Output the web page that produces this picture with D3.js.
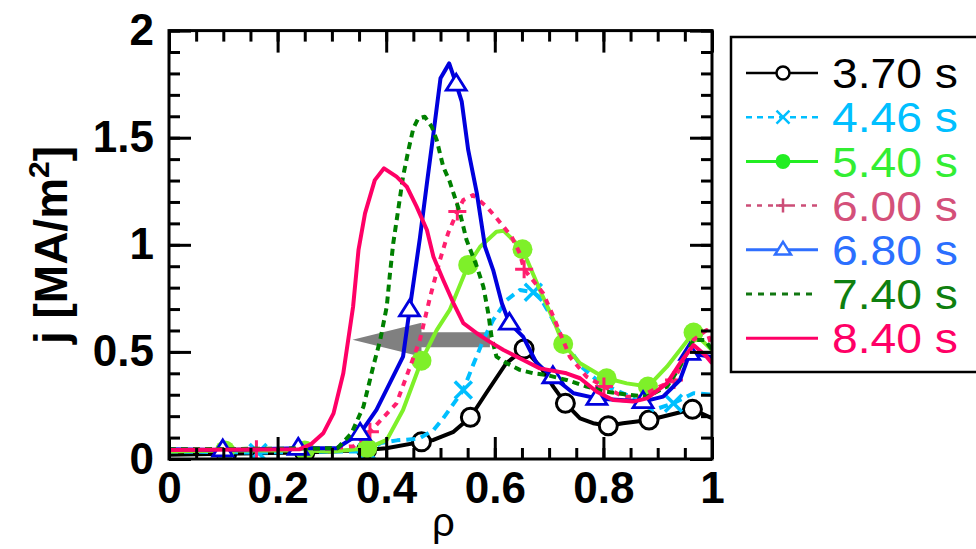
<!DOCTYPE html>
<html>
<head>
<meta charset="utf-8">
<script src="https://cdn.jsdelivr.net/npm/d3@7"></script>
<style>
  body { margin: 0; background: #fff; }
  svg { display: block; font-family: "Liberation Sans", Arial, sans-serif; }
</style>
</head>
<body>
<svg id="chart" width="976" height="549"></svg>
<script>
// ---- data ----
const xTicks = [0, 0.2, 0.4, 0.6, 0.8, 1];
const xTickLabels = ["0", "0.2", "0.4", "0.6", "0.8", "1"];
const yTicks = [0, 0.5, 1, 1.5, 2];
const yTickLabels = ["0", "0.5", "1", "1.5", "2"];
const labels = ["3.70 s", "4.46 s", "5.40 s", "6.00 s", "6.80 s", "7.40 s", "8.40 s"];

const rho370 = [0, 0.106, 0.25, 0.364, 0.4, 0.465, 0.487, 0.524, 0.555, 0.584, 0.621, 0.654, 0.684, 0.708, 0.73, 0.757, 0.781, 0.809, 0.836, 0.884, 0.964, 1.0];
const j370   = [0.02, 0.025, 0.03, 0.042, 0.05, 0.08, 0.089, 0.127, 0.195, 0.307, 0.447, 0.514, 0.431, 0.337, 0.26, 0.19, 0.167, 0.155, 0.167, 0.182, 0.232, 0.19];
const mk370  = [1, 2, 3, 5, 8, 11, 14, 17, 19, 20];

const rho446 = [0, 0.164, 0.3, 0.365, 0.39, 0.42, 0.46, 0.487, 0.505, 0.542, 0.56, 0.579, 0.597, 0.622, 0.646, 0.671, 0.683, 0.705, 0.726, 0.76, 0.794, 0.849, 0.892, 0.929, 0.966, 1.0];
const j446   = [0.035, 0.03, 0.035, 0.035, 0.075, 0.087, 0.095, 0.135, 0.19, 0.322, 0.439, 0.556, 0.649, 0.742, 0.789, 0.778, 0.756, 0.66, 0.556, 0.43, 0.355, 0.291, 0.229, 0.26, 0.307, 0.3];
const mk446  = [1, 3, 9, 15, 23];

const rho540 = [0, 0.103, 0.25, 0.3, 0.365, 0.401, 0.431, 0.465, 0.493, 0.517, 0.551, 0.573, 0.603, 0.616, 0.651, 0.683, 0.708, 0.726, 0.757, 0.788, 0.806, 0.843, 0.882, 0.917, 0.966, 1.0];
const j540   = [0.035, 0.04, 0.04, 0.035, 0.05, 0.089, 0.229, 0.459, 0.602, 0.696, 0.906, 0.991, 1.061, 1.066, 0.979, 0.789, 0.649, 0.537, 0.447, 0.4, 0.377, 0.353, 0.338, 0.431, 0.59, 0.509];
const mk540  = [1, 2, 4, 7, 10, 14, 17, 20, 22, 24];

const rho600 = [0, 0.161, 0.3, 0.34, 0.37, 0.419, 0.444, 0.462, 0.481, 0.499, 0.514, 0.531, 0.542, 0.56, 0.585, 0.606, 0.631, 0.646, 0.654, 0.689, 0.708, 0.738, 0.769, 0.801, 0.837, 0.867, 0.904, 0.93, 0.966, 0.99, 1.0];
const j600   = [0.045, 0.045, 0.05, 0.06, 0.127, 0.26, 0.431, 0.556, 0.758, 0.929, 1.054, 1.155, 1.209, 1.232, 1.178, 1.116, 1.038, 0.96, 0.886, 0.774, 0.664, 0.478, 0.384, 0.338, 0.291, 0.291, 0.338, 0.369, 0.556, 0.602, 0.524];
const mk600  = [1, 4, 11, 18, 23, 27];

const rho680 = [0, 0.099, 0.238, 0.309, 0.352, 0.382, 0.431, 0.443, 0.462, 0.475, 0.487, 0.5, 0.516, 0.529, 0.539, 0.551, 0.567, 0.582, 0.597, 0.613, 0.627, 0.652, 0.677, 0.707, 0.745, 0.788, 0.831, 0.873, 0.91, 0.941, 0.959, 0.996, 1.0];
const j680   = [0.045, 0.042, 0.05, 0.05, 0.12, 0.229, 0.478, 0.696, 1.03, 1.287, 1.52, 1.777, 1.847, 1.75, 1.67, 1.443, 1.24, 0.991, 0.882, 0.727, 0.634, 0.571, 0.447, 0.384, 0.307, 0.283, 0.275, 0.268, 0.291, 0.369, 0.493, 0.478, 0.47];
const mk680  = [1, 2, 4, 7, 13, 20, 23, 25, 27, 30];

const rho740 = [0, 0.31, 0.336, 0.358, 0.376, 0.389, 0.401, 0.407, 0.413, 0.422, 0.431, 0.441, 0.45, 0.459, 0.471, 0.484, 0.493, 0.505, 0.517, 0.524, 0.536, 0.548, 0.567, 0.579, 0.588, 0.594, 0.603, 0.622, 0.646, 0.671, 0.696, 0.732, 0.769, 0.806, 0.849, 0.88, 0.917, 0.941, 0.966, 0.987, 1.0];
const j740   = [0.045, 0.05, 0.12, 0.244, 0.431, 0.556, 0.711, 0.867, 1.007, 1.162, 1.318, 1.443, 1.544, 1.59, 1.598, 1.551, 1.489, 1.365, 1.295, 1.24, 1.147, 1.022, 0.898, 0.804, 0.68, 0.571, 0.478, 0.447, 0.416, 0.4, 0.392, 0.369, 0.338, 0.314, 0.299, 0.291, 0.338, 0.431, 0.556, 0.556, 0.51];

const rho840 = [0, 0.24, 0.262, 0.284, 0.303, 0.321, 0.339, 0.349, 0.361, 0.379, 0.396, 0.419, 0.438, 0.456, 0.475, 0.487, 0.505, 0.524, 0.542, 0.567, 0.585, 0.616, 0.646, 0.683, 0.732, 0.757, 0.788, 0.818, 0.855, 0.88, 0.917, 0.941, 0.966, 0.99, 1.0];
const j840   = [0.042, 0.045, 0.07, 0.12, 0.213, 0.4, 0.711, 0.976, 1.147, 1.302, 1.357, 1.318, 1.271, 1.178, 1.069, 0.944, 0.836, 0.727, 0.634, 0.587, 0.556, 0.509, 0.47, 0.423, 0.4, 0.377, 0.314, 0.275, 0.268, 0.283, 0.353, 0.447, 0.532, 0.478, 0.447];

// gray arrow (tip, back of head, tail) in rho, and its height in j
const arrowRho = [0.338, 0.465, 0.591];
const arrowJ = 0.557;

// ---- styles ----
const series = [
  { rho: rho370, j: j370, mk: mk370, color: "#000000", dash: null,   marker: "circle",   legLine: "#000000", legText: "#000000", legDash: null },
  { rho: rho446, j: j446, mk: mk446, color: "#00bfff", dash: "9,6",  marker: "x",        legLine: "#00bfff", legText: "#00bfff", legDash: "6,5" },
  { rho: rho540, j: j540, mk: mk540, color: "#7ef029", dash: null,   marker: "dot",      legLine: "#22ee22", legText: "#33ee33", legDash: null },
  { rho: rho600, j: j600, mk: mk600, color: "#ff1f6e", dash: "6,6",  marker: "plus",     legLine: "#cc4d77", legText: "#d4507a", legDash: "5,6" },
  { rho: rho680, j: j680, mk: mk680, color: "#0000dd", dash: null,   marker: "triangle", legLine: "#2f6fff", legText: "#2b6fff", legDash: null },
  { rho: rho740, j: j740, mk: [],    color: "#008000", dash: "7,5",  marker: null,       legLine: "#117711", legText: "#0f7f0f", legDash: "6,6" },
  { rho: rho840, j: j840, mk: [],    color: "#ff0066", dash: null,   marker: null,       legLine: "#ff0066", legText: "#ff0066", legDash: null }
];

const margin = { left: 169, top: 30.6, right: 976 - 712, bottom: 549 - 459 };
const width = 712 - 169, height = 459 - 30.6;

const svg = d3.select("#chart");
const g = svg.append("g").attr("transform", `translate(${margin.left},${margin.top})`);

const x = d3.scaleLinear().domain([0, 1]).range([0, width]);
const y = d3.scaleLinear().domain([0, 2]).range([height, 0]);

// gray arrow, under the curves
const ay = y(arrowJ);
g.append("path")
  .attr("d", `M${x(arrowRho[0])},${ay} L${x(arrowRho[1])},${ay - 17} L${x(arrowRho[1])},${ay - 7.5}
             L${x(arrowRho[2])},${ay - 7.5} L${x(arrowRho[2])},${ay + 7.5} L${x(arrowRho[1])},${ay + 7.5}
             L${x(arrowRho[1])},${ay + 17} Z`)
  .attr("fill", "#808080");

// curves
g.append("clipPath").attr("id", "clip").append("rect").attr("width", width).attr("height", height);
const plot = g.append("g").attr("clip-path", "url(#clip)");
const line = d3.line().x(d => x(d[0])).y(d => y(d[1]));

function drawMarker(sel, type, color, size) {
  if (type === "circle") {
    sel.append("circle").attr("r", size).attr("fill", "#fff").attr("stroke", color).attr("stroke-width", 3);
  } else if (type === "dot") {
    sel.append("circle").attr("r", size).attr("fill", color);
  } else if (type === "x") {
    const s = size;
    sel.append("path").attr("d", `M${-s},${-s}L${s},${s}M${-s},${s}L${s},${-s}`)
      .attr("stroke", color).attr("stroke-width", 3.5).attr("fill", "none");
  } else if (type === "plus") {
    const s = size;
    sel.append("path").attr("d", `M${-s},0L${s},0M0,${-s}L0,${s}`)
      .attr("stroke", color).attr("stroke-width", 3).attr("fill", "none");
  } else if (type === "triangle") {
    const s = size;
    sel.append("path").attr("d", `M0,${-s}L${s},${s * 0.6}L${-s},${s * 0.6}Z`)
      .attr("stroke", color).attr("stroke-width", 2.8).attr("fill", "#fff");
  }
}

const markerSize = { circle: 9, dot: 10, x: 8.5, plus: 9, triangle: 10 };

series.forEach(s => {
  const pts = s.rho.map((r, i) => [r, s.j[i]]);
  plot.append("path")
    .datum(pts)
    .attr("d", line)
    .attr("fill", "none")
    .attr("stroke", s.color)
    .attr("stroke-width", 4)
    .attr("stroke-linejoin", "round")
    .attr("stroke-dasharray", s.dash);
  s.mk.forEach(i => {
    const m = plot.append("g").attr("transform", `translate(${x(pts[i][0])},${y(pts[i][1])})`);
    drawMarker(m, s.marker, s.color, markerSize[s.marker]);
  });
});

// axes: inward ticks on all sides
const xMinor = d3.range(0, 1.0001, 0.05);
const yMinor = d3.range(0, 2.0001, 0.1);

function styleAxis(a) {
  a.select(".domain").remove();
  a.selectAll(".tick line").attr("stroke", "#000").attr("stroke-width", 3);
}

g.append("g").attr("transform", `translate(0,${height})`)
  .call(d3.axisBottom(x).tickValues(xMinor).tickSize(-11).tickFormat("")).call(styleAxis);
g.append("g").attr("transform", `translate(0,${height})`)
  .call(d3.axisBottom(x).tickValues(xTicks).tickSize(-22).tickPadding(13).tickFormat((d, i) => xTickLabels[i]))
  .call(styleAxis)
  .selectAll("text").attr("font-size", 44).attr("font-weight", "bold").attr("fill", "#000")
  .attr("font-family", "Liberation Sans, Arial, sans-serif");
g.append("g")
  .call(d3.axisTop(x).tickValues(xMinor).tickSize(-11).tickFormat("")).call(styleAxis);
g.append("g")
  .call(d3.axisTop(x).tickValues(xTicks).tickSize(-22).tickFormat("")).call(styleAxis);

g.append("g")
  .call(d3.axisLeft(y).tickValues(yMinor).tickSize(-11).tickFormat("")).call(styleAxis);
g.append("g")
  .call(d3.axisLeft(y).tickValues(yTicks).tickSize(-22).tickPadding(15).tickFormat((d, i) => yTickLabels[i]))
  .call(styleAxis)
  .selectAll("text").attr("font-size", 44).attr("font-weight", "bold").attr("fill", "#000")
  .attr("font-family", "Liberation Sans, Arial, sans-serif");
g.append("g").attr("transform", `translate(${width},0)`)
  .call(d3.axisRight(y).tickValues(yMinor).tickSize(-11).tickFormat("")).call(styleAxis);
g.append("g").attr("transform", `translate(${width},0)`)
  .call(d3.axisRight(y).tickValues(yTicks).tickSize(-22).tickFormat("")).call(styleAxis);

// frame
g.append("rect").attr("width", width).attr("height", height)
  .attr("fill", "none").attr("stroke", "#000").attr("stroke-width", 3);

// axis titles
svg.append("text")
  .attr("x", margin.left + width / 2 + 3).attr("y", 536)
  .attr("text-anchor", "middle").attr("font-size", 40)
  .text("ρ");

const yt = svg.append("text")
  .attr("transform", "translate(67,245) rotate(-90)")
  .attr("text-anchor", "middle").attr("font-size", 46).attr("font-weight", "bold");
yt.append("tspan").text("j [MA/m");
yt.append("tspan").attr("font-size", 30).attr("dy", -18).text("2");
yt.append("tspan").attr("dy", 18).text("]");

// legend
const leg = svg.append("g");
leg.append("rect").attr("x", 731).attr("y", 37).attr("width", 270).attr("height", 335)
  .attr("fill", "#fff").attr("stroke", "#000").attr("stroke-width", 2.5);

const legMarkerSize = { circle: 6.5, dot: 7.5, x: 6.5, plus: 7, triangle: 8 };
series.forEach((s, i) => {
  const cy = 73 + i * 44.2;
  const row = leg.append("g").attr("transform", `translate(0,${cy})`);
  row.append("line").attr("x1", 746).attr("x2", 818).attr("y1", 0).attr("y2", 0)
    .attr("stroke", s.legLine).attr("stroke-width", s.marker === "dot" || s.marker === "triangle" || !s.marker ? 3 : 2.5)
    .attr("stroke-dasharray", s.legDash);
  if (s.marker) {
    const m = row.append("g").attr("transform", "translate(783,0)");
    drawMarker(m, s.marker, s.legLine, legMarkerSize[s.marker]);
    m.selectAll("circle,path").attr("stroke-width", s.marker === "dot" ? null : 2.5);
  }
  row.append("text").attr("x", 832).attr("y", 0).attr("dy", "0.36em")
    .attr("font-size", 42).attr("textLength", 126).attr("lengthAdjust", "spacingAndGlyphs")
    .attr("fill", s.legText).text(labels[i]);
});
</script>
</body>
</html>
